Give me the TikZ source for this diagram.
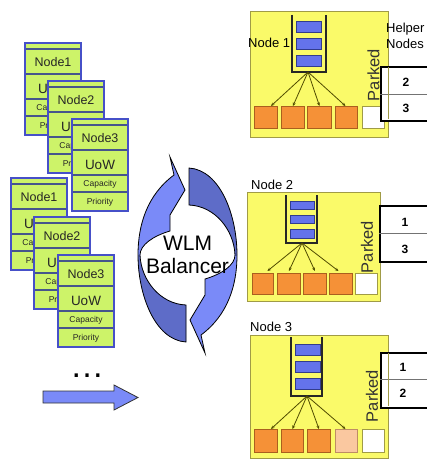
\documentclass[tikz,border=0pt]{standalone}
\usepackage{fontspec}
\setmainfont{Liberation Sans}
\usetikzlibrary{arrows.meta}

\definecolor{cardFill}{RGB}{205,243,105}
\definecolor{cardEdge}{RGB}{70,80,200}
\definecolor{rowEdge}{RGB}{70,85,140}
\definecolor{nodeFill}{RGB}{250,250,105}
\definecolor{nodeEdge}{RGB}{160,155,70}
\definecolor{qFill}{RGB}{100,115,235}
\definecolor{qEdge}{RGB}{50,60,140}
\definecolor{orFill}{RGB}{245,145,55}
\definecolor{orEdge}{RGB}{170,95,30}
\definecolor{peFill}{RGB}{250,200,160}
\definecolor{peEdge}{RGB}{190,140,100}
\definecolor{feedLine}{RGB}{80,75,0}
\definecolor{balLight}{RGB}{122,138,248}
\definecolor{balDark}{RGB}{94,108,200}

\newcommand{\fs}[1]{\fontsize{#1}{#1}\selectfont}

% one work card: name, x, y (top left), node number
\newcommand{\wlmcard}[4]{%
  \begin{scope}[shift={(#2,#3)}]
    \node[cardbody] (#1) at (0,0) {};
    \draw[rowline] (0,6) -- (56,6);
    \draw[rowline] (0,31) -- (56,31);
    \draw[rowline] (0,56) -- (56,56);
    \draw[rowline] (0,73) -- (56,73);
    \draw[cardline] (0,0) rectangle (56,92);
    \node[cardtxt, font=\fs{12.5}] (#1-n) at (28,23.5) {Node#4};
    \node[cardtxt, font=\fs{13.5}] (#1-u) at (28,50) {UoW};
    \node[cardtxt, font=\fs{8.5}] (#1-c) at (28,67) {Capacity};
    \node[cardtxt, font=\fs{8.5}] (#1-p) at (28,85.5) {Priority};
  \end{scope}}

% rectangular node given by its corners: name, x1, y1, x2, y2, style
\newcommand{\boxat}[6]{%
  \node[#6, anchor=north west, minimum width={(#4)-(#2)},
        minimum height={(#5)-(#3)}] (#1) at (#2,#3) {};}

% one half of the balancer ring: dark tail above the waist, light head below
\newcommand{\balarrow}{%
  \fill[balLight, bal path];
  \begin{scope}
    \clip (100,100) rectangle (300,255);
    \fill[balDark, bal path];
  \end{scope}
  \draw[baledge, bal path];}

\begin{document}
\begin{tikzpicture}[x=1pt, y=-1pt,
  cardbody/.style={rectangle, fill=cardFill, anchor=north west, inner sep=0pt,
                   outer sep=0pt, minimum width=56pt, minimum height=92pt},
  cardline/.style={draw=cardEdge, line width=1.3pt},
  rowline/.style={draw=rowEdge, line width=1.4pt},
  cardtxt/.style={anchor=base, inner sep=0pt, text=black!85},
  wlmnode/.style={rectangle, fill=nodeFill, draw=nodeEdge, line width=0.9pt, inner sep=0pt},
  qslot/.style={rectangle, fill=qFill, draw=qEdge, line width=0.8pt, inner sep=0pt},
  worker/.style={rectangle, fill=orFill, draw=orEdge, line width=0.9pt, inner sep=0pt},
  halfworker/.style={rectangle, fill=peFill, draw=peEdge, line width=0.9pt, inner sep=0pt},
  idle/.style={rectangle, fill=white, draw=nodeEdge, line width=0.9pt, inner sep=0pt},
  ladder/.style={draw=black!85, line width=1.5pt},
  feed/.style={draw=feedLine, line width=0.8pt, -{Stealth[length=3.5pt,width=3pt]}},
  parked/.style={rotate=90, font=\fs{16.5}, text=black!80, inner sep=0pt},
  helpers/.style={rectangle, draw=black, line width=2.4pt, fill=white, inner sep=0pt},
  divider/.style={draw=black!55, line width=0.8pt},
  num/.style={anchor=base, font=\bfseries\fs{12}, inner sep=0pt},
  lbl/.style={anchor=base west, font=\fs{13}, inner sep=0pt},
  baledge/.style={draw=black, line width=0.8pt},
  bal path/.style={insert path={(189,168) .. controls (220,170) and (237,215) .. (237,255)
     .. controls (237,285) and (228,315) .. (201,335) -- (205,353) -- (190,320)
     -- (205,295) -- (205,279) .. controls (222,274) and (235,265) .. (235,255)
     .. controls (234,230) and (215,206) .. (189,205) -- cycle}},
  baltxt/.style={anchor=base, font=\fs{21}, inner sep=0pt}
]
\useasboundingbox (0,0) rectangle (427,460);
\fill[white] (0,0) rectangle (427,460);

% ---------------- stacks of work cards ----------------
\wlmcard{ca1}{25}{43}{1}
\wlmcard{ca2}{48}{81}{2}
\wlmcard{ca3}{72}{119}{3}
\wlmcard{cb1}{11}{178}{1}
\wlmcard{cb2}{34}{217}{2}
\wlmcard{cb3}{58}{255}{3}

\node[anchor=base, font=\fs{34}, inner sep=0pt] (more) at (87,377) {…};
\draw[fill=balLight, draw=black!80, line width=0.8pt]
  (43,391) -- (114,391) -- (114,385) -- (138,397.5) -- (114,410) -- (114,403) -- (43,403) -- cycle;

% ---------------- balancer ----------------
\balarrow
\begin{scope}[rotate around={180:(187.5,255)}]
  \balarrow
\end{scope}
\node[baltxt] (wlm) at (187.5,250) {WLM};
\node[baltxt] (balancer) at (187.5,273) {Balancer};

% ---------------- node 1 ----------------
\boxat{n1}{250}{11}{388}{137}{wlmnode}
\node[lbl] (n1-l) at (248,47.5) {Node 1};
\draw[ladder] (292,15) -- (292,72) -- (326,72) -- (326,15);
\coordinate (q1) at (308,72);
\boxat{q1a}{296}{21}{321}{32}{qslot}
\boxat{q1b}{296}{38}{321}{49}{qslot}
\boxat{q1c}{296}{55}{321}{66}{qslot}
\boxat{w11}{254}{106}{277}{128}{worker}
\boxat{w12}{281}{106}{304}{128}{worker}
\boxat{w13}{307}{106}{331}{128}{worker}
\boxat{w14}{335}{106}{357}{128}{worker}
\boxat{w15}{362}{106}{384}{128}{idle}
\draw[feed] (q1) -- ([xshift=5pt]w11.north);
\draw[feed] (q1) -- (w12.north);
\draw[feed] (q1) -- (w13.north);
\draw[feed] (q1) -- ([xshift=-1pt]w14.north);
\node[parked] (p1) at (373.5,75) {Parked};
\boxat{h1}{380}{66}{450}{120}{helpers}
\draw[divider] (h1.west |- 0,94) -- (h1.east |- 0,94);
\draw[draw=nodeEdge, line width=0.6pt] (388,67) -- (388,119);
\node[num] (h1a) at (406,86.3) {2};
\node[num] (h1b) at (406,112.3) {3};
\node[lbl] (helper) at (386,32.5) {Helper};
\node[lbl] (nodes) at (386,48.5) {Nodes};

% ---------------- node 2 ----------------
\boxat{n2}{247}{192}{380}{301}{wlmnode}
\node[lbl] (n2-l) at (251,189.5) {Node 2};
\draw[ladder] (286,195) -- (286,243) -- (317,243) -- (317,195);
\coordinate (q2) at (302,243);
\boxat{q2a}{290}{201}{314}{209}{qslot}
\boxat{q2b}{290}{215}{314}{223}{qslot}
\boxat{q2c}{290}{229}{314}{238}{qslot}
\boxat{w21}{252}{273}{273}{294}{worker}
\boxat{w22}{277}{273}{300}{294}{worker}
\boxat{w23}{303}{273}{326}{294}{worker}
\boxat{w24}{329}{273}{352}{294}{worker}
\boxat{w25}{355}{273}{377}{294}{idle}
\draw[feed] (q2) -- ([xshift=4.5pt, yshift=2pt]w21.north);
\draw[feed] (q2) -- ([yshift=2pt]w22.north);
\draw[feed] (q2) -- ([yshift=2pt]w23.north);
\draw[feed] (q2) -- ([xshift=-2.5pt, yshift=2pt]w24.north);
\node[parked] (p2) at (367,247) {Parked};
\boxat{h2}{379}{205}{450}{261}{helpers}
\draw[divider] (h2.west |- 0,233) -- (h2.east |- 0,233);
\node[num] (h2a) at (405,226) {1};
\node[num] (h2b) at (405,253.3) {3};

% ---------------- node 3 ----------------
\boxat{n3}{250}{335}{388}{458}{wlmnode}
\node[lbl] (n3-l) at (250,331.5) {Node 3};
\draw[ladder] (291,337) -- (291,396) -- (322,396) -- (322,337);
\coordinate (q3) at (307,396);
\boxat{q3a}{295}{344}{320}{355}{qslot}
\boxat{q3b}{295}{361}{320}{372}{qslot}
\boxat{q3c}{295}{378}{320}{389}{qslot}
\boxat{w31}{254}{429}{277}{452}{worker}
\boxat{w32}{281}{429}{303}{452}{worker}
\boxat{w33}{307}{429}{330}{452}{worker}
\boxat{w34}{335}{429}{357}{452}{halfworker}
\boxat{w35}{362}{429}{384}{452}{idle}
\draw[feed] (q3) -- ([xshift=5pt]w31.north);
\draw[feed] (q3) -- (w32.north);
\draw[feed] (q3) -- (w33.north);
\draw[feed] (q3) -- ([xshift=-1pt]w34.north);
\node[parked] (p3) at (372,396) {Parked};
\boxat{h3}{380}{352}{450}{407}{helpers}
\draw[divider] (h3.west |- 0,379) -- (h3.east |- 0,379);
\draw[draw=nodeEdge, line width=0.6pt] (388,353) -- (388,406);
\node[num] (h3a) at (403,371.3) {1};
\node[num] (h3b) at (403,397.3) {2};
\end{tikzpicture}
\end{document}
